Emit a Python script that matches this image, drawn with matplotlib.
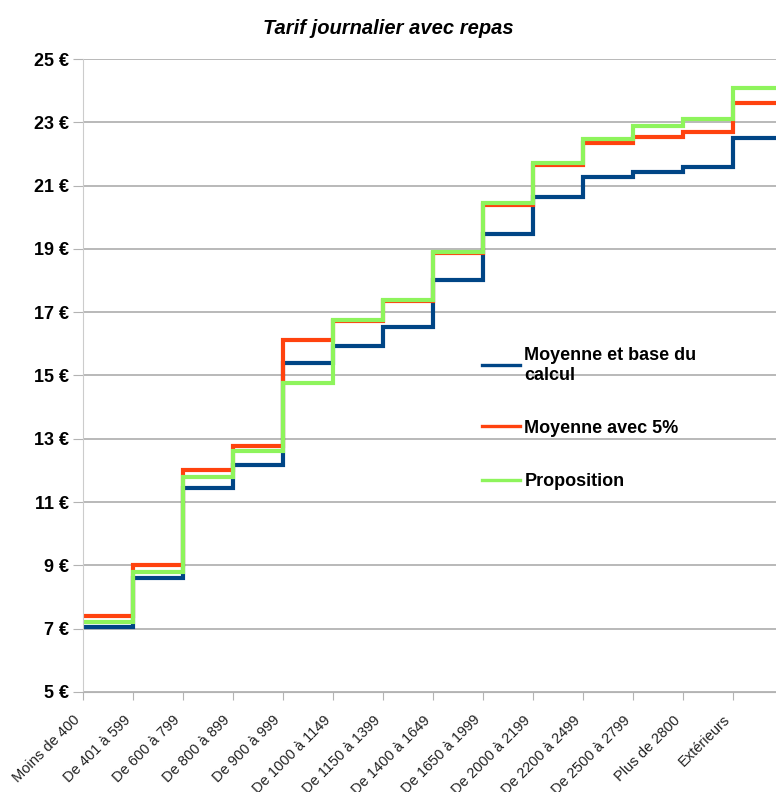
import numpy as np
import matplotlib
matplotlib.use("Agg")
import matplotlib.pyplot as plt
from matplotlib.lines import Line2D

# categories (income brackets)
categories = ["Moins de 400", "De 401 à 599", "De 600 à 799", "De 800 à 899",
              "De 900 à 999", "De 1000 à 1149", "De 1150 à 1399", "De 1400 à 1649",
              "De 1650 à 1999", "De 2000 à 2199", "De 2200 à 2499", "De 2500 à 2799",
              "Plus de 2800", "Extérieurs"]

moyenne = [7.06, 8.59, 11.44, 12.17, 15.38, 15.93, 16.52, 18.02,
           19.47, 20.63, 21.28, 21.44, 21.60, 22.49]
moyenne_5 = [7.40, 9.01, 12.00, 12.76, 16.13, 16.72, 17.35, 18.88,
             20.40, 21.64, 22.35, 22.52, 22.70, 23.62]
proposition = [7.22, 8.80, 11.78, 12.62, 14.75, 16.74, 17.39, 18.90,
               20.44, 21.70, 22.47, 22.89, 23.10, 24.07]

series_names = ["Moyenne et base du\ncalcul", "Moyenne avec 5%", "Proposition"]
colors = ["#004586", "#ff420e", "#8ef45c"]

plt.rcParams['font.family'] = ['Liberation Sans', 'DejaVu Sans']

fig = plt.figure(figsize=(7.76, 7.92), dpi=100)
ax = fig.add_axes([83 / 776, 1 - 692 / 792, 700 / 776, 633 / 792])

x = np.arange(len(categories) + 1)
for vals, col in zip([moyenne, moyenne_5, proposition], colors):
    ax.step(x, list(vals) + [vals[-1]], where='post', color=col, lw=3.0,
            solid_joinstyle='miter')

ax.set_xlim(0, len(categories))
ax.set_ylim(5, 25)
ax.set_yticks(np.arange(5, 26, 2))
ax.set_yticklabels([f"{v} €" for v in range(5, 26, 2)], fontsize=13,
                   fontweight='bold', color='black')
ax.set_xticks(np.arange(len(categories)))
ax.set_xticklabels(categories, rotation=45, ha='right', fontsize=10.5,
                   color='#222222')

ax.yaxis.grid(True, color='#b3b3b3', lw=1.3)
ax.set_axisbelow(True)
for s in ['top', 'right']:
    ax.spines[s].set_visible(False)
ax.spines['left'].set_color('#cccccc')
ax.spines['bottom'].set_color('#b3b3b3')
ax.tick_params(axis='x', length=6, color='#b3b3b3', pad=9)
ax.tick_params(axis='y', length=7, color='#b3b3b3', pad=3)

handles = [Line2D([0], [0], color=c, lw=2.4) for c in colors]
fig.legend(handles, series_names, loc='upper left',
           bbox_to_anchor=(482 / 776, 1 - 347 / 792), frameon=False,
           prop={'size': 13, 'weight': 'bold'}, borderpad=0, borderaxespad=0,
           handlelength=2.1, handletextpad=0.25, labelspacing=2.0)

fig.text(0.5, 1 - 28 / 792, "Tarif journalier avec repas", ha='center', va='center',
         fontsize=14.5, fontweight='bold', fontstyle='italic')

fig.savefig("out.png", dpi=100)
